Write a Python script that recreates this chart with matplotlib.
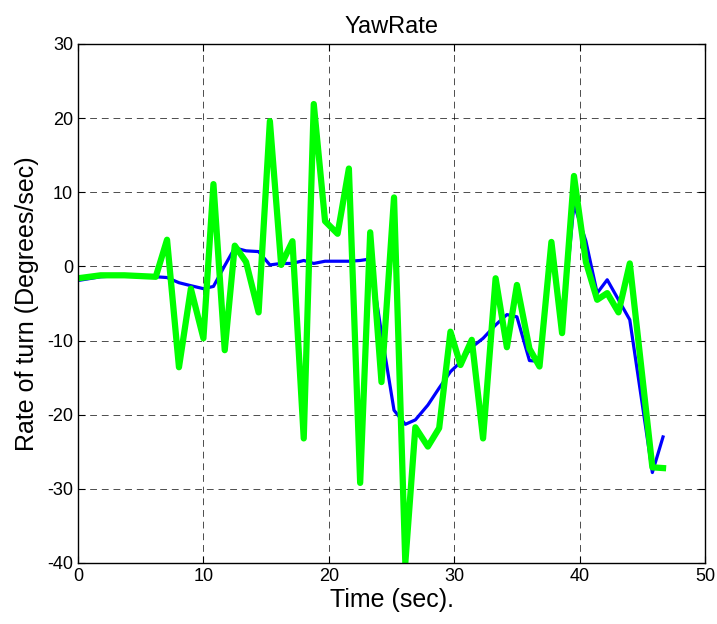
import matplotlib
matplotlib.use('Agg')
from matplotlib import pyplot as plt

# time stamps (sec) for each sample
t = [0.0, 1.8, 3.7, 6.2, 7.1, 8.05, 9.0, 10.0, 10.8, 11.7, 12.5, 13.4, 14.4,
     15.3, 16.2, 17.1, 18.0, 18.8, 19.7, 20.7, 21.6, 22.5, 23.3, 24.2, 25.2,
     26.1, 26.9, 27.9, 28.8, 29.7, 30.5, 31.4, 32.3, 33.3, 34.2, 35.0, 36.0,
     36.8, 37.75, 38.6, 39.55, 40.5, 41.4, 42.2, 43.1, 44.0, 45.8, 46.65]

# filtered yaw rate (blue)
yaw_filtered = [-1.9, -1.4, -1.2, -1.4, -1.5, -2.2, -2.6, -3.0, -2.7, 0.1,
                2.5, 2.1, 2.0, 0.2, 0.4, 0.4, 0.8, 0.4, 0.7, 0.7, 0.7, 0.8,
                1.0, -9.0, -19.4, -21.3, -20.7, -18.7, -16.4, -14.2, -12.9,
                -10.9, -9.7, -7.9, -6.5, -6.8, -12.7, -12.8, 2.5, -8.5, 8.4,
                3.4, -3.6, -1.8, -4.5, -7.2, -27.8, -23.0]

# raw yaw rate (green)
yaw_raw = [-1.6, -1.2, -1.2, -1.4, 3.6, -13.6, -3.0, -9.7, 11.1, -11.3,
           2.8, 0.6, -6.2, 19.6, 0.2, 3.4, -23.2, 21.9, 6.1, 4.4, 13.2,
           -29.2, 4.6, -15.6, 9.3, -40.0, -21.7, -24.3, -21.8, -8.8, -13.3,
           -9.9, -23.2, -1.6, -10.9, -2.5, -11.1, -13.5, 3.3, -9.0, 12.2,
           0.6, -4.5, -3.6, -6.2, 0.4, -27.1, -27.2]

plt.rcParams['font.family'] = ['Liberation Sans', 'DejaVu Sans']
plt.rcParams['axes.unicode_minus'] = False

fig = plt.figure(figsize=(7.17, 6.24), dpi=100)
ax = fig.add_axes([0.1088, 0.0978, 0.8745, 0.8317])

ax.plot(t, yaw_filtered, color=(0, 0, 1), linewidth=2.3)
ax.plot(t, yaw_raw, color=(0, 1, 0), linewidth=4.5)

ax.set_xlim(0, 50)
ax.set_ylim(-40, 30)
ax.set_xticks(range(0, 51, 10))
ax.set_yticks(range(-40, 31, 10))
ax.grid(True, color='black', linestyle=(0, (7, 5)), linewidth=0.7, alpha=0.7)
ax.tick_params(direction='in', top=True, right=True, labelsize=13, length=5)
for s in ax.spines.values():
    s.set_linewidth(1.0)

ax.set_title('YawRate', fontsize=17, pad=8)
ax.set_xlabel('Time (sec).', fontsize=18, labelpad=2)
ax.set_ylabel('Rate of turn (Degrees/sec)', fontsize=18, labelpad=6)

fig.savefig('out.png', dpi=100)
